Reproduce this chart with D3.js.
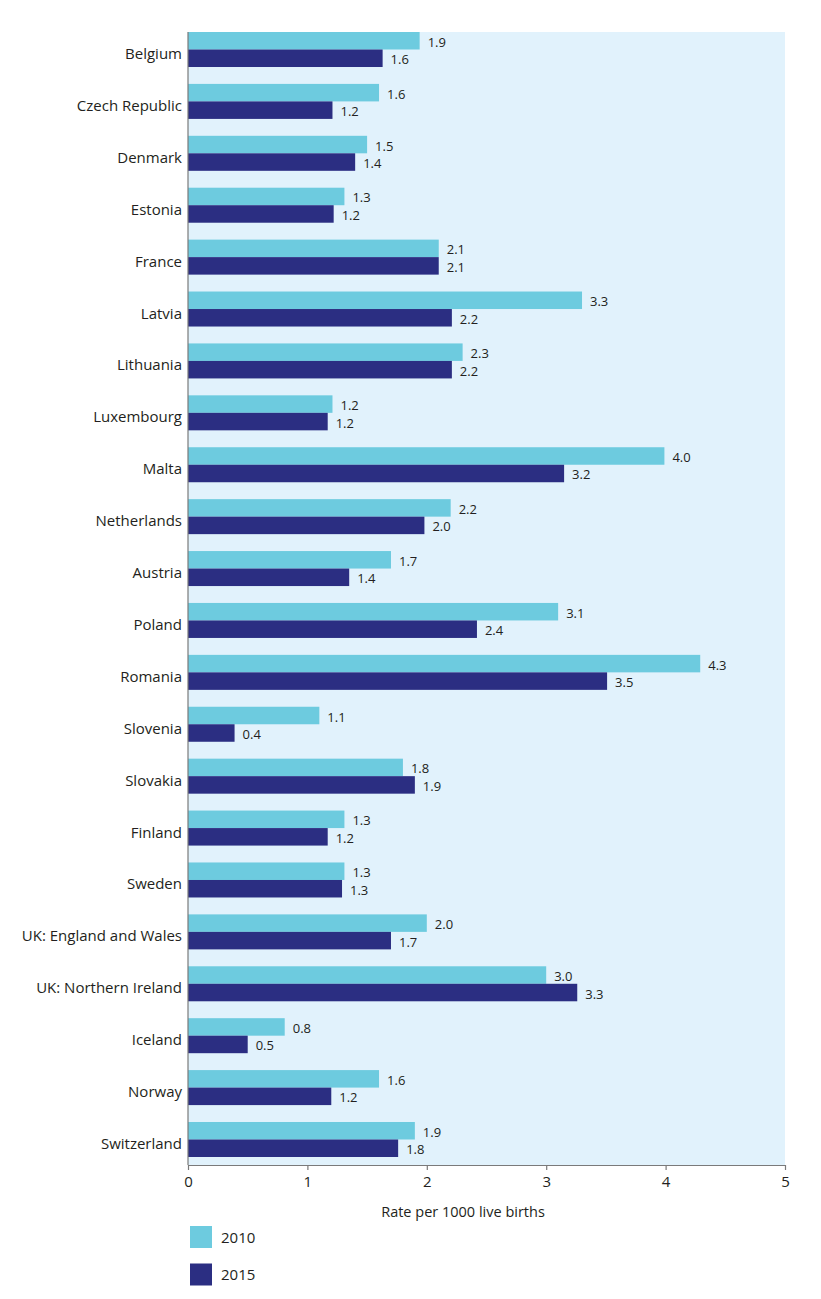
<!DOCTYPE html>
<html>
<head>
<meta charset="utf-8">
<script src="https://cdn.jsdelivr.net/npm/d3@7"></script>
<style>
  html, body { margin: 0; padding: 0; background: #ffffff; }
  svg { display: block; font-family: "Open Sans", "Noto Sans", sans-serif; }
</style>
</head>
<body>
<svg id="chart" width="821" height="1299"></svg>
<script>
// ---- Data ----
const categories = ["Belgium", "Czech Republic", "Denmark", "Estonia", "France", "Latvia",
  "Lithuania", "Luxembourg", "Malta", "Netherlands", "Austria", "Poland", "Romania",
  "Slovenia", "Slovakia", "Finland", "Sweden", "UK: England and Wales",
  "UK: Northern Ireland", "Iceland", "Norway", "Switzerland"];
const values2010 = [1.94, 1.6, 1.5, 1.31, 2.1, 3.3, 2.3, 1.21, 3.99, 2.2, 1.7, 3.1, 4.29,
  1.1, 1.8, 1.31, 1.31, 2.0, 3.0, 0.81, 1.6, 1.9];
const values2015 = [1.63, 1.21, 1.4, 1.22, 2.1, 2.21, 2.21, 1.17, 3.15, 1.98, 1.35, 2.42, 3.51,
  0.39, 1.9, 1.17, 1.29, 1.7, 3.26, 0.5, 1.2, 1.76];
const labels2010 = ["1.9", "1.6", "1.5", "1.3", "2.1", "3.3", "2.3", "1.2", "4.0", "2.2", "1.7",
  "3.1", "4.3", "1.1", "1.8", "1.3", "1.3", "2.0", "3.0", "0.8", "1.6", "1.9"];
const labels2015 = ["1.6", "1.2", "1.4", "1.2", "2.1", "2.2", "2.2", "1.2", "3.2", "2.0", "1.4",
  "2.4", "3.5", "0.4", "1.9", "1.2", "1.3", "1.7", "3.3", "0.5", "1.2", "1.8"];
const seriesNames = ["2010", "2015"];
const xTicks = [0, 1, 2, 3, 4, 5];
const axisTitle = "Rate per 1000 live births";

// ---- Layout ----
const colors = { "2010": "#6dcbdf", "2015": "#2b2e82" };
const plotLeft = 188, plotRight = 785, plotTop = 32, plotBottom = 1165;
const textColor = "#231f20";

const svg = d3.select("#chart");

const x = d3.scaleLinear().domain([0, 5]).range([plotLeft, plotRight]);
const y = d3.scaleBand().domain(categories).range([plotTop, 1157])
  .paddingInner(0.3256).paddingOuter(0);
const ySub = d3.scaleBand().domain(seriesNames).range([0, y.bandwidth()]);

// background
svg.append("rect")
  .attr("x", plotLeft).attr("y", plotTop)
  .attr("width", plotRight - plotLeft).attr("height", plotBottom - plotTop)
  .attr("fill", "#e1f2fc");

const rows = categories.map((c, i) => ({
  cat: c,
  vals: [
    { s: "2010", v: values2010[i], l: labels2010[i] },
    { s: "2015", v: values2015[i], l: labels2015[i] }
  ]
}));

const g = svg.append("g");
const grp = g.selectAll("g.cat").data(rows).join("g")
  .attr("class", "cat")
  .attr("transform", d => `translate(0,${y(d.cat)})`);

grp.selectAll("rect").data(d => d.vals).join("rect")
  .attr("x", x(0))
  .attr("y", d => ySub(d.s))
  .attr("width", d => x(d.v) - x(0))
  .attr("height", ySub.bandwidth())
  .attr("fill", d => colors[d.s]);

grp.selectAll("text.val").data(d => d.vals).join("text")
  .attr("class", "val")
  .attr("x", d => x(d.v) + 8)
  .attr("y", d => ySub(d.s) + ySub.bandwidth() / 2 + 6)
  .attr("font-size", 13)
  .attr("fill", textColor)
  .text(d => d.l);

// category labels
svg.append("g").selectAll("text").data(categories).join("text")
  .attr("x", plotLeft - 6)
  .attr("y", d => y(d) + y.bandwidth() / 2 + 9.5)
  .attr("text-anchor", "end")
  .attr("font-size", 15)
  .attr("fill", textColor)
  .text(d => d);

// left axis line
svg.append("line")
  .attr("x1", plotLeft).attr("x2", plotLeft)
  .attr("y1", plotTop).attr("y2", plotBottom)
  .attr("stroke", "#7a7a7a").attr("stroke-width", 1.2);

// bottom axis
const xAxis = d3.axisBottom(x).tickValues(xTicks).tickFormat(d3.format("d"))
  .tickSize(5).tickSizeOuter(0).tickPadding(6);
const ax = svg.append("g").attr("transform", `translate(0,${plotBottom})`).call(xAxis);
ax.select(".domain").attr("stroke", "#7a7a7a").attr("stroke-width", 1.2);
ax.selectAll(".tick line").attr("stroke", "#7a7a7a").attr("stroke-width", 1.2);
ax.selectAll(".tick text").attr("font-size", 15).attr("fill", textColor)
  .attr("font-family", "\"Open Sans\", \"Noto Sans\", sans-serif");

// axis title
svg.append("text")
  .attr("x", 463).attr("y", 1217)
  .attr("text-anchor", "middle")
  .attr("font-size", 14.5)
  .attr("fill", textColor)
  .text(axisTitle);

// legend
const leg = svg.append("g").selectAll("g").data(seriesNames).join("g")
  .attr("transform", (d, i) => `translate(190,${1226 + i * 37.5})`);
leg.append("rect").attr("width", 22).attr("height", 22).attr("fill", d => colors[d]);
leg.append("text").attr("x", 31).attr("y", 16.5)
  .attr("font-size", 15).attr("fill", textColor).text(d => d);
</script>
</body>
</html>
